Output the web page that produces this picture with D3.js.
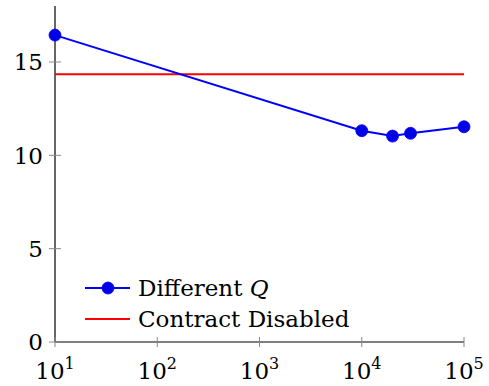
<!DOCTYPE html>
<html>
<head>
<meta charset="utf-8">
<script src="https://cdn.jsdelivr.net/npm/d3@7"></script>
<style>
  body { margin: 0; background: #fff; }
</style>
</head>
<body>
<div id="chart"></div>
<script>
// values
var qValues = [10, 10000, 20000, 30000, 100000];
var qTimes = [16.44, 11.32, 11.03, 11.18, 11.53];
var disabledTime = 14.35;
var xTicks = [1, 2, 3, 4, 5];   // exponents
var yTicks = [0, 5, 10, 15];
var seriesNames = ["Different Q", "Contract Disabled"];

var width = 489, height = 386;
var fs = 23;
var font = "'DejaVu Serif', serif";

var svg = d3.select("#chart").append("svg")
  .attr("width", width)
  .attr("height", height)
  .attr("font-family", font);

var x = d3.scaleLog().domain([10, 100000]).range([55, 464]);
var y = d3.scaleLinear().domain([0, 18]).range([342, 6]);

// axes lines
svg.append("line")
  .attr("x1", x(10)).attr("x2", x(10))
  .attr("y1", y(0)).attr("y2", y(18))
  .attr("stroke", "#000").attr("stroke-width", 1.2);
svg.append("line")
  .attr("x1", x(10)).attr("x2", x(100000))
  .attr("y1", y(0)).attr("y2", y(0))
  .attr("stroke", "#000").attr("stroke-width", 1.2);

// y ticks
var yt = svg.append("g").selectAll("g").data(yTicks).enter().append("g");
yt.append("line")
  .attr("x1", x(10) - 6).attr("x2", x(10) + 6)
  .attr("y1", d => y(d)).attr("y2", d => y(d))
  .attr("stroke", "#888").attr("stroke-width", 1);
yt.append("text")
  .attr("x", x(10) - 12)
  .attr("y", d => y(d))
  .attr("dy", "0.36em")
  .attr("text-anchor", "end")
  .style("font-size", fs + "px")
  .text(d => d);

// x ticks
var xt = svg.append("g").selectAll("g").data(xTicks).enter().append("g");
xt.append("line")
  .attr("x1", d => x(Math.pow(10, d))).attr("x2", d => x(Math.pow(10, d)))
  .attr("y1", y(0) - 5).attr("y2", y(0) + 5)
  .attr("stroke", "#888").attr("stroke-width", 1);
var xl = xt.append("text")
  .attr("x", d => x(Math.pow(10, d)))
  .attr("y", 379)
  .attr("text-anchor", "middle")
  .style("font-size", fs + "px");
xl.append("tspan").text("10");
xl.append("tspan")
  .attr("dy", -10)
  .style("font-size", "16px")
  .text(d => d);

// red line
svg.append("line")
  .attr("x1", x(10)).attr("x2", x(100000))
  .attr("y1", y(disabledTime)).attr("y2", y(disabledTime))
  .attr("stroke", "#ff0000").attr("stroke-width", 2);

// blue series
var line = d3.line()
  .x((d, i) => x(qValues[i]))
  .y(d => y(d));

svg.append("path")
  .datum(qTimes)
  .attr("d", line)
  .attr("fill", "none")
  .attr("stroke", "#0000ff")
  .attr("stroke-width", 2);

svg.selectAll("circle.pt")
  .data(qTimes)
  .enter()
  .append("circle")
  .attr("class", "pt")
  .attr("cx", (d, i) => x(qValues[i]))
  .attr("cy", d => y(d))
  .attr("r", 6)
  .attr("fill", "#0000e6")
  .attr("stroke", "#0000ff")
  .attr("stroke-width", 0.8);

// legend
var leg = svg.append("g");
leg.append("line")
  .attr("x1", 85).attr("x2", 130).attr("y1", 288).attr("y2", 288)
  .attr("stroke", "#0000ff").attr("stroke-width", 2);
leg.append("circle")
  .attr("cx", 108).attr("cy", 288).attr("r", 6)
  .attr("fill", "#0000e6").attr("stroke", "#0000ff").attr("stroke-width", 0.8);
leg.append("line")
  .attr("x1", 85).attr("x2", 130).attr("y1", 319).attr("y2", 319)
  .attr("stroke", "#ff0000").attr("stroke-width", 2);

var t1 = leg.append("text")
  .attr("x", 138).attr("y", 296)
  .style("font-size", fs + "px");
t1.append("tspan").text("Different ");
t1.append("tspan").style("font-style", "italic").text("Q");

leg.append("text")
  .attr("x", 138).attr("y", 327)
  .style("font-size", fs + "px")
  .text(seriesNames[1]);
</script>
</body>
</html>
